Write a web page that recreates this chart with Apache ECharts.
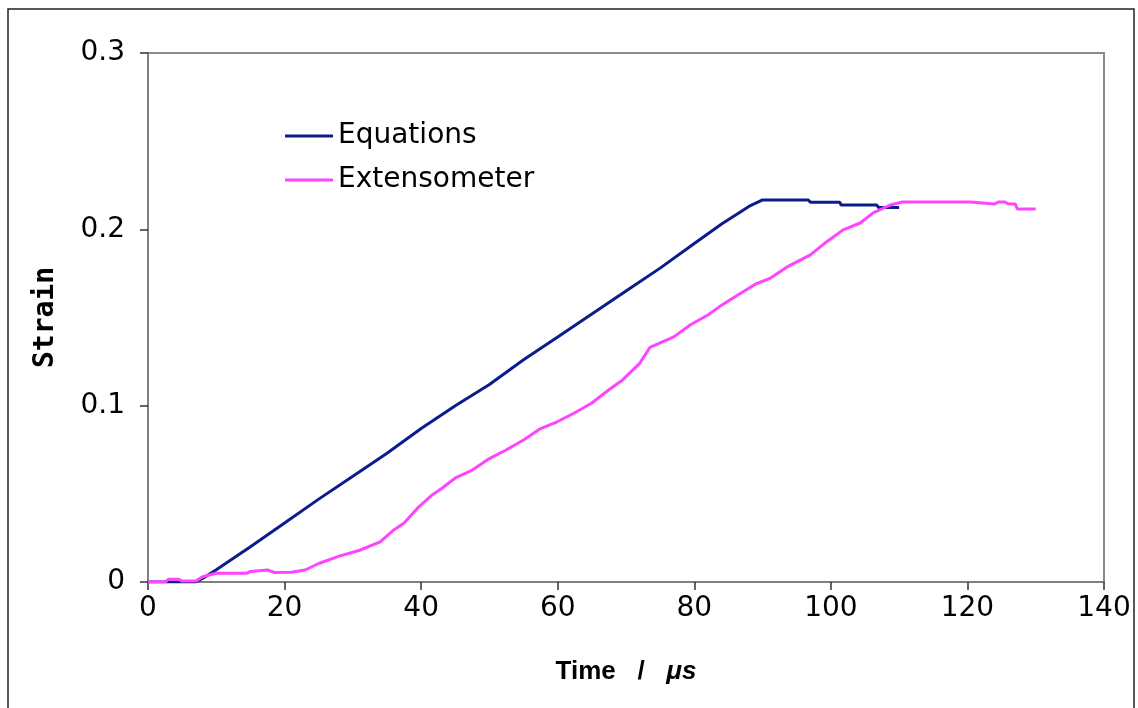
<!DOCTYPE html>
<html>
<head>
<meta charset="utf-8">
<script src="https://cdn.jsdelivr.net/npm/echarts@6/dist/echarts.min.js"></script>
<style>
  html, body { margin: 0; padding: 0; background: #fff; }
  #chart { width: 1138px; height: 708px; }
</style>
</head>
<body>
<div id="chart"></div>
<script>
// values
const xTicks = [0, 20, 40, 60, 80, 100, 120, 140]
const yTicks = [0, 0.1, 0.2, 0.3]

const eqTime = [0, 7, 8, 10, 15, 20, 25, 30, 35, 40, 45, 50, 55, 60, 65, 70, 75, 80, 84, 86, 88, 90, 96.7, 97, 101.3, 101.5, 106.7, 107, 110]
const eqStrain = [0, 0, 0.002, 0.007, 0.020, 0.0335, 0.047, 0.060, 0.073, 0.087, 0.100, 0.112, 0.126, 0.139, 0.152, 0.165, 0.178, 0.192, 0.203, 0.208, 0.213, 0.2167, 0.2167, 0.2154, 0.2154, 0.2138, 0.2138, 0.2124, 0.2124]

const extTime = [0, 2.5, 3, 4.5, 5, 7, 8, 10, 14.5, 15, 17.5, 18.5, 21, 23, 25, 28, 31, 34, 36, 37.5, 39.5, 41.5, 43, 45, 47.5, 50, 52.5, 55, 57.5, 60, 62.5, 65, 67.5, 69.5, 72, 73.5, 77, 79.5, 82, 84, 86.5, 89, 91, 93.6, 97, 99.4, 101.8, 104.3, 106.2, 108.7, 110.5, 120.4, 120.6, 124, 124.5, 125.5, 126, 127, 127.3, 130]
const extStrain = [0, 0, 0.0015, 0.0015, 0.0005, 0.0005, 0.003, 0.005, 0.005, 0.006, 0.0068, 0.0054, 0.0055, 0.0068, 0.0105, 0.0147, 0.018, 0.0227, 0.0295, 0.0335, 0.042, 0.049, 0.053, 0.059, 0.0635, 0.070, 0.075, 0.0805, 0.087, 0.091, 0.096, 0.1015, 0.109, 0.1146, 0.124, 0.133, 0.139, 0.146, 0.1514, 0.157, 0.163, 0.169, 0.172, 0.1787, 0.1855, 0.193, 0.1997, 0.2036, 0.2093, 0.2138, 0.2155, 0.2155, 0.2144, 0.2144, 0.2155, 0.2155, 0.2144, 0.2144, 0.2116, 0.2116]

const chart = echarts.init(document.getElementById('chart'))

const zip = (xs, ys) => xs.map((x, i) => [x, ys[i]])

const option = {
  animation: false,
  backgroundColor: '#fff',
  textStyle: { fontFamily: 'DejaVu Sans' },
  graphic: [
    {
      type: 'rect',
      shape: { x: 8, y: 9, width: 1126, height: 720 },
      style: { fill: 'none', stroke: '#222', lineWidth: 1.5 },
    },
  ],
  grid: {
    left: 148,
    top: 53,
    right: 34,
    bottom: 126,
    show: true,
    borderColor: '#8a8a8a',
    borderWidth: 2,
    backgroundColor: 'transparent',
  },
  legend: {
    orient: 'vertical',
    left: 280,
    top: 117,
    itemWidth: 48,
    itemHeight: 3,
    itemGap: 16,
    icon: 'rect',
    data: ['Equations', 'Extensometer'],
    textStyle: { fontSize: 28, color: '#000', fontFamily: 'DejaVu Sans' },
  },
  xAxis: {
    type: 'value',
    min: xTicks[0],
    max: xTicks[xTicks.length - 1],
    interval: 20,
    name: 'Time   /   {it|μs}',
    nameLocation: 'middle',
    nameGap: 77,
    nameTextStyle: {
      fontSize: 26,
      fontWeight: 'bold',
      color: '#000',
      fontFamily: 'Liberation Sans',
      rich: {
        it: { fontSize: 26, fontWeight: 'bold', fontStyle: 'italic', fontFamily: 'Liberation Sans', color: '#000' },
      },
    },
    axisLine: { onZero: false, lineStyle: { color: '#808080', width: 2 } },
    axisTick: { length: 8, lineStyle: { color: '#333', width: 1.5 } },
    axisLabel: { fontSize: 28, color: '#000', margin: 13 },
    splitLine: { show: false },
  },
  yAxis: {
    type: 'value',
    min: yTicks[0],
    max: yTicks[yTicks.length - 1],
    interval: 0.1,
    name: 'Strain',
    nameLocation: 'middle',
    nameGap: 88,
    nameTextStyle: {
      fontSize: 28,
      fontWeight: 'bold',
      color: '#000',
      fontFamily: 'DejaVu Sans Mono',
    },
    axisLine: { show: true, lineStyle: { color: '#808080', width: 2 } },
    axisTick: { show: true, length: 8, lineStyle: { color: '#333', width: 1.5 } },
    axisLabel: {
      fontSize: 28,
      color: '#000',
      margin: 23,
      formatter: v => (v === 0 ? '0' : v.toFixed(1)),
    },
    splitLine: { show: false },
  },
  series: [
    {
      name: 'Equations',
      type: 'line',
      data: zip(eqTime, eqStrain),
      showSymbol: false,
      lineStyle: { color: '#0c1c8c', width: 3 },
      itemStyle: { color: '#0c1c8c' },
    },
    {
      name: 'Extensometer',
      type: 'line',
      data: zip(extTime, extStrain),
      showSymbol: false,
      lineStyle: { color: '#ff44ff', width: 3 },
      itemStyle: { color: '#ff44ff' },
    },
  ],
}

chart.setOption(option)

window.addEventListener('resize', () => chart.resize())
</script>
</body>
</html>
